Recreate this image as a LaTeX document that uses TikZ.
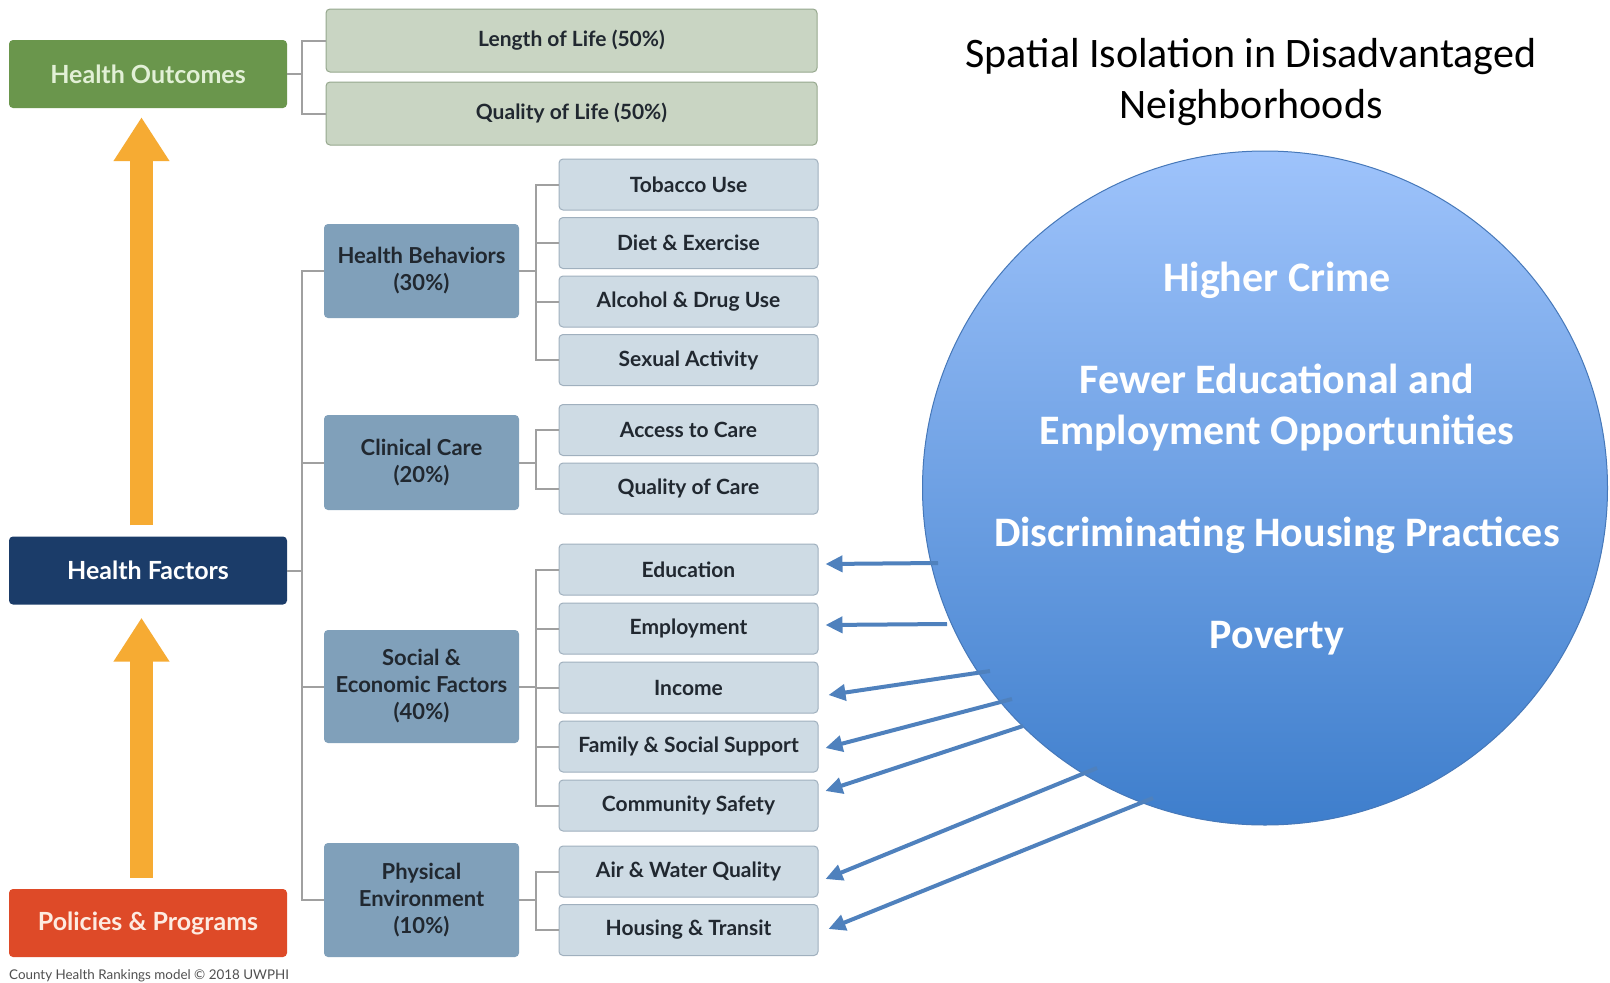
\documentclass[tikz,border=0pt]{standalone}
\usepackage{fontspec}
\setmainfont{Carlito}
\newfontfamily\chrfont{Lato}
\usetikzlibrary{arrows.meta, positioning, shapes.geometric}
\definecolor{OutGreen}{RGB}{106,150,76}
\definecolor{OutText}{RGB}{226,240,214}
\definecolor{OutLight}{RGB}{201,213,195}
\definecolor{OutEdge}{RGB}{150,168,142}
\definecolor{FacNavy}{RGB}{27,60,105}
\definecolor{PolRed}{RGB}{222,74,40}
\definecolor{PolText}{RGB}{253,235,225}
\definecolor{CatBlue}{RGB}{128,160,186}
\definecolor{SubBlue}{RGB}{206,219,228}
\definecolor{SubEdge}{RGB}{160,176,190}
\definecolor{BoxText}{RGB}{33,40,48}
\definecolor{UpOrange}{RGB}{246,171,51}
\definecolor{LinkGray}{RGB}{160,160,160}
\definecolor{CapGray}{RGB}{80,80,80}
\definecolor{PtrBlue}{RGB}{79,129,189}
\definecolor{BlobTop}{RGB}{158,195,251}
\definecolor{BlobBot}{RGB}{62,126,204}
\definecolor{BlobEdge}{RGB}{70,120,185}

\begin{document}
\begin{tikzpicture}[x=1pt, y=-1pt,
            bigbox/.style={rectangle, rounded corners=4pt, minimum width=278pt, minimum height=68pt, inner sep=0pt, font=\chrfont\bfseries\fontsize{25}{30}\selectfont},
            catbox/.style={rectangle, rounded corners=4pt, fill=CatBlue, text=BoxText, minimum width=195pt, align=center, inner sep=0pt, font=\chrfont\bfseries\fontsize{22}{27}\selectfont},
            outbox/.style={rectangle, rounded corners=4pt, fill=OutLight, draw=OutEdge, line width=1pt, text=BoxText, minimum width=491pt, minimum height=63pt, inner sep=0pt, font=\chrfont\bfseries\fontsize{21}{25}\selectfont},
            subbox/.style={rectangle, rounded corners=4pt, fill=SubBlue, draw=SubEdge, line width=1pt, text=BoxText, minimum width=259pt, minimum height=51pt, inner sep=0pt, font=\chrfont\bfseries\fontsize{21}{25}\selectfont},
            link/.style={draw=LinkGray, line width=2pt},
            bigup/.style={draw=UpOrange, line width=23pt, -{Triangle[width=53pt, length=44pt]}},
            ptr/.style={draw=PtrBlue, line width=4pt, -{Triangle[width=16pt, length=17pt]}},
        ]
            \fill[white] (0,0) rectangle (1610,983);
            \useasboundingbox (0,0) rectangle (1610,983);

            \node[bigbox, fill=OutGreen, text=OutText] (outc) at (148,74) {Health Outcomes};
            \node[bigbox, fill=FacNavy, text=white] (fact) at (148,570.5) {Health Factors};
            \node[bigbox, fill=PolRed, text=PolText] (poli) at (148,923) {Policies \& Programs};

            \node[outbox] (life) at (571.5,40.5) {Length of Life (50\%)};
            \node[outbox, below=9pt of life] (qual) {Quality of Life (50\%)};

            \node[catbox, minimum height=94pt] (behav) at (421.5,271) {Health Behaviors\\(30\%)};
            \node[catbox, minimum height=95pt] (clin) at (421.5,462.5) {Clinical Care\\(20\%)};
            \node[catbox, minimum height=113pt] (socio) at (421.5,686.5) {Social \&\\Economic Factors\\(40\%)};
            \node[catbox, minimum height=114pt] (phys) at (421.5,900) {Physical\\Environment\\(10\%)};

            \node[subbox] (tob) at (688.5,184.5) {Tobacco Use};
            \node[subbox, below=6.5pt of tob] (diet) {Diet \& Exercise};
            \node[subbox, below=6.5pt of diet] (alc) {Alcohol \& Drug Use};
            \node[subbox, below=6.5pt of alc] (sex) {Sexual Activity};
            \node[subbox] (acc) at (688.5,430) {Access to Care};
            \node[subbox, below=6.5pt of acc] (qcare) {Quality of Care};
            \node[subbox] (edu) at (688.5,569.5) {Education};
            \node[subbox, below=7pt of edu] (emp) {Employment};
            \node[subbox, below=7pt of emp] (inc) {Income};
            \node[subbox, below=7pt of inc] (fam) {Family \& Social Support};
            \node[subbox, below=7pt of fam] (comm) {Community Safety};
            \node[subbox] (air) at (688.5,871.5) {Air \& Water Quality};
            \node[subbox, below=6.5pt of air] (house) {Housing \& Transit};

            \node[anchor=base west, inner sep=0pt, text=CapGray, font=\chrfont\fontsize{13.4}{16}\selectfont] (credit) at (9,979) {County Health Rankings model © 2018 UWPHI};

            \coordinate (trunk) at (302,0);
            \coordinate (bus) at (536,0);
            \draw[link] (outc.east) -- (outc.east -| trunk);
            \draw[link] (life.west) -- (life.west -| trunk) -- (qual.west -| trunk) -- (qual.west);
            \draw[link] (fact.east) -- (fact.east -| trunk);
            \draw[link] (behav.west) -- (behav.west -| trunk) -- (phys.west -| trunk) -- (phys.west);
            \draw[link] (clin.west) -- (clin.west -| trunk);
            \draw[link] (socio.west) -- (socio.west -| trunk);
            \foreach \cat/\first/\last in {behav/tob/sex, clin/acc/qcare, socio/edu/comm, phys/air/house} {
                \draw[link] (\cat.east) -- (\cat.east -| bus);
                \draw[link] (\first.west) -- (\first.west -| bus) -- (\last.west -| bus) -- (\last.west);
            }
            \foreach \mid in {diet, alc, emp, inc, fam} {
                \draw[link] (\mid.west) -- (\mid.west -| bus);
            }

            \draw[bigup, shorten <=11pt, shorten >=9pt] ([xshift=-6.5pt]fact.north) -- ([xshift=-6.5pt]outc.south);
            \draw[bigup, shorten <=11pt, shorten >=13pt] ([xshift=-6.5pt]poli.north) -- ([xshift=-6.5pt]fact.south);

            \node[font=\fontsize{42}{51}\selectfont, align=center, anchor=base] (title) at (1251,118) {Spatial Isolation in Disadvantaged\\Neighborhoods};

            \node[ellipse, minimum width=685pt, minimum height=674pt, inner sep=0pt, draw=BlobEdge, line width=1pt, top color=BlobTop, bottom color=BlobBot] (blob) at (1265,488) {};
            \node[text=white, align=center, font=\bfseries\fontsize{42}{51}\selectfont] (causes) at (1277,459) {Higher Crime\\[51pt]Fewer Educational and\\Employment Opportunities\\[51pt]Discriminating Housing Practices\\[51pt]Poverty};

            \foreach \dest/\sx/\sy/\dx/\dy in {edu/938/563/7/-5.5, emp/947/624/7/-3.5, inc/990/671/10/7.5, fam/1012/699/7/1.5, comm/1023/726/7/-14.5, air/1097/768/7/7.5, house/1153/798/10/-1} {
                \coordinate (from\dest) at (\sx,\sy);
                \draw[ptr] (from\dest) -- ([shift={(\dx,\dy)}]\dest.east);
            }
        \end{tikzpicture}
\end{document}
